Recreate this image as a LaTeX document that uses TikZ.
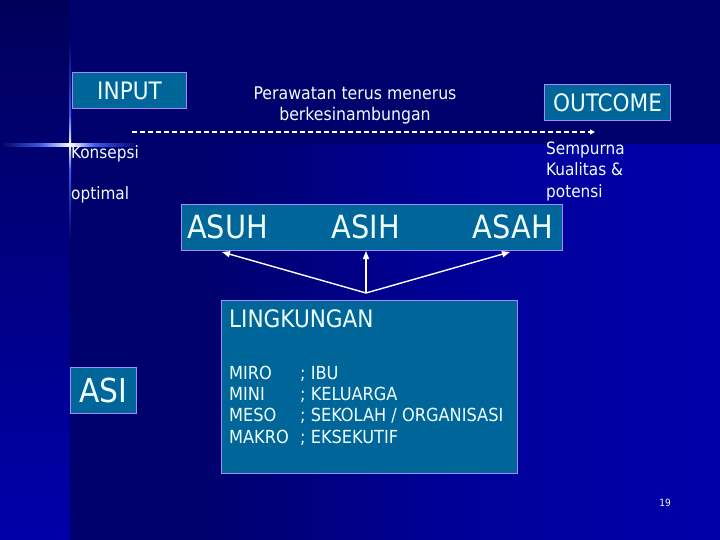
\documentclass[tikz,border=0pt]{standalone}
\usepackage{fontspec}
\setmainfont{DejaVu Sans Condensed}
\usetikzlibrary{arrows.meta}
\definecolor{bgdark}{HTML}{00006C}
\definecolor{bgtop}{HTML}{00005A}
\definecolor{bglight}{HTML}{0000AA}
\definecolor{glowblue}{HTML}{3A5AE8}
\definecolor{boxfill}{HTML}{006699}
\definecolor{boxline}{HTML}{A08CFF}
\definecolor{txt}{HTML}{F0FFFF}
\newcommand{\fs}[1]{\fontsize{#1}{#1}\selectfont}
\begin{document}
\begin{tikzpicture}[x=1pt,y=-1pt,
  box/.style={draw=boxline, fill=boxfill, line width=1pt, inner sep=0pt, anchor=north west},
  lbl/.style={text=txt, inner sep=0pt, anchor=base west},
  arr/.style={draw=white, line width=1.4pt, -{Triangle[length=8pt,width=6pt]}}]
% background
\useasboundingbox (0,0) rectangle (720,540);
\fill[bgdark] (0,0) rectangle (720,540);
\shade[top color=bgtop, bottom color=bglight] (0,0) rectangle (70,540);
\shade[left color=bgdark, right color=bglight] (70,145) rectangle (720,540);
\fill[bgdark] (70,145) rectangle (200,540);
\shade[left color=bgdark, right color=bglight!70!bgdark] (200,145) rectangle (450,540);
\shade[left color=bglight!70!bgdark, right color=bglight] (450,145) rectangle (720,540);
% glow cross
\shade[left color=bgtop, right color=glowblue] (0,144) rectangle (40,146.5);
\shade[left color=glowblue, right color=white] (40,144) rectangle (70,146.5);
\shade[left color=white, right color=glowblue] (70,144) rectangle (95,146.5);
\shade[left color=glowblue, right color=bgdark] (95,144) rectangle (140,146.5);
\shade[top color=bgdark, bottom color=glowblue] (69,40) rectangle (71.2,115);
\shade[top color=glowblue, bottom color=white] (69,115) rectangle (71.2,145);
\shade[top color=white, bottom color=glowblue] (69,145) rectangle (71.2,170);
\shade[top color=glowblue, bottom color=bgdark] (69,170) rectangle (71.2,240);
% boxes
\node[box, minimum width=114pt, minimum height=36pt] (input) at (72,72) {};
\node[text=txt, inner sep=0pt, font=\fs{24}] at (input.center) {INPUT};
\node[box, minimum width=126pt, minimum height=36pt] (outcome) at (544,84) {};
\node[text=txt, inner sep=0pt, font=\fs{24}] at (outcome.center) {OUTCOME};
\node[box, minimum width=381pt, minimum height=46pt] (aaa) at (181,204) {};
\node[lbl, font=\fs{32}] (asuh) at (187,239) {ASUH};
\node[lbl, font=\fs{32}, anchor=base] (asih) at (366,239) {ASIH};
\node[lbl, font=\fs{32}, anchor=base east] (asah) at (553,239) {ASAH};
\node[box, minimum width=66pt, minimum height=46pt] (asibox) at (70,367) {};
\node[text=txt, inner sep=0pt, font=\fs{33}] (asi) at (asibox.center) {ASI};
\node[box, minimum width=296pt, minimum height=173pt] (ling) at (221,300) {};
\node[lbl, font=\fs{24}] (lingt) at (229,327) {LINGKUNGAN};
\node[lbl, font=\fs{18}] (r1a) at (229,379) {MIRO};
\node[lbl, font=\fs{18}] (r2a) at (229,400) {MINI};
\node[lbl, font=\fs{18}] (r3a) at (229,421) {MESO};
\node[lbl, font=\fs{18}] (r4a) at (229,443) {MAKRO};
\node[lbl, font=\fs{18}] (r1b) at (300,379) {; IBU};
\node[lbl, font=\fs{18}] (r2b) at (300,400) {; KELUARGA};
\node[lbl, font=\fs{18}] (r3b) at (300,421) {; SEKOLAH / ORGANISASI};
\node[lbl, font=\fs{18}] (r4b) at (300,443) {; EKSEKUTIF};
% free texts
\node[lbl, font=\fs{17.5}, anchor=base] (p1) at (355,100) {Perawatan terus menerus};
\node[lbl, font=\fs{17.5}, anchor=base] (p2) at (355,121) {berkesinambungan};
\node[lbl, font=\fs{17}] (k1) at (71,159) {Konsepsi};
\node[lbl, font=\fs{17}] (k2) at (71,200) {optimal};
\node[lbl, font=\fs{17}] (s1) at (546,155) {Sempurna};
\node[lbl, font=\fs{17}] (s2) at (546,176) {Kualitas \&};
\node[lbl, font=\fs{17}] (s3) at (546,197) {potensi};
\node[lbl, font=\fs{10}, anchor=base] (pg) at (665,506) {19};
% dashed arrow
\coordinate (dstart) at (132,132);
\coordinate (dend) at (595,132);
\draw[white, line width=1.4pt, dash pattern=on 5pt off 3pt, -{Triangle[length=5pt,width=5pt]}] (dstart) -- (dend);
% arrows from LINGKUNGAN
\coordinate (hub) at (366,293);
\draw[arr] (hub) -- (222,252);
\draw[arr] (hub) -- (asih.base |- aaa.south);
\draw[arr] (hub) -- (510,252);
\end{tikzpicture}
\end{document}
